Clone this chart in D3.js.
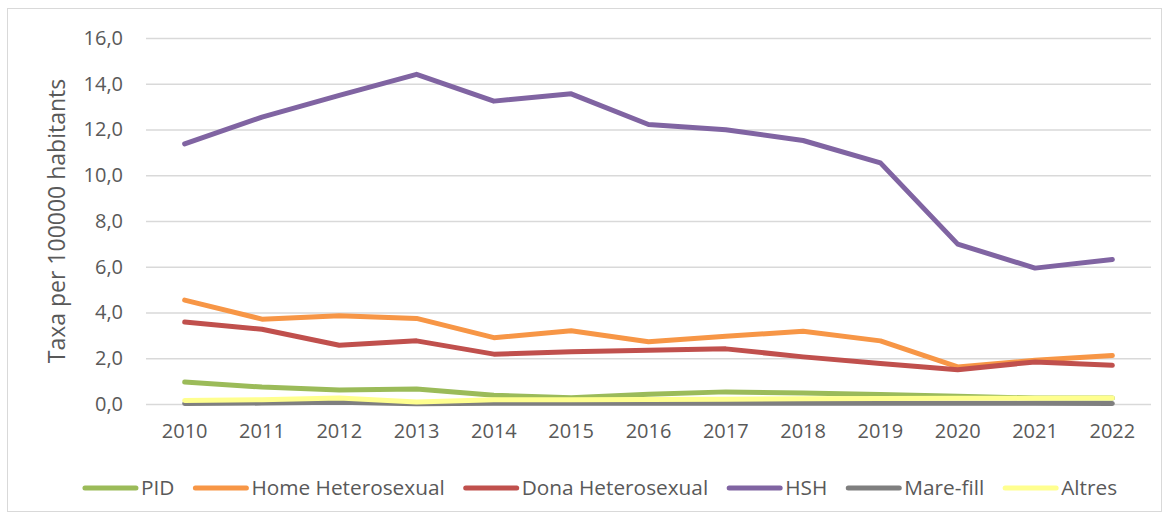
<!DOCTYPE html>
<html>
<head>
<meta charset="utf-8">
<script src="https://cdn.jsdelivr.net/npm/d3@7"></script>
<style>
  body { margin: 0; background: #fff; }
  svg { display: block; font-family: "Open Sans", sans-serif; }
</style>
</head>
<body>
<div class="chart"></div>
<script>
// values
const years = [2010, 2011, 2012, 2013, 2014, 2015, 2016, 2017, 2018, 2019, 2020, 2021, 2022];
const pid = [0.96, 0.74, 0.61, 0.66, 0.38, 0.27, 0.43, 0.53, 0.48, 0.42, 0.34, 0.26, 0.26];
const homeHetero = [4.54, 3.71, 3.86, 3.74, 2.90, 3.20, 2.72, 2.96, 3.18, 2.76, 1.62, 1.91, 2.12];
const donaHetero = [3.58, 3.27, 2.57, 2.76, 2.18, 2.28, 2.35, 2.41, 2.06, 1.77, 1.50, 1.84, 1.69];
const hsh = [11.37, 12.54, 13.49, 14.41, 13.24, 13.56, 12.22, 11.99, 11.52, 10.54, 6.99, 5.94, 6.32];
const mareFill = [0.02, 0.04, 0.08, 0.01, 0.03, 0.03, 0.03, 0.03, 0.03, 0.03, 0.03, 0.03, 0.02];
const altres = [0.15, 0.19, 0.26, 0.09, 0.19, 0.19, 0.20, 0.21, 0.23, 0.24, 0.25, 0.25, 0.26];
const seriesNames = ["PID", "Home Heterosexual", "Dona Heterosexual", "HSH", "Mare-fill", "Altres"];
const yTicks = [0, 2, 4, 6, 8, 10, 12, 14, 16];
const yTitle = "Taxa per 100000 habitants";

const colors = ["#9bbb59", "#f79646", "#c0504d", "#8064a2", "#7f7f7f", "#ffff8f"];
const series = [pid, homeHetero, donaHetero, hsh, mareFill, altres].map((vals, i) => ({
	name: seriesNames[i],
	color: colors[i],
	values: vals.map((v, j) => ({year: years[j], value: v}))
}));

const width = 1169;
const height = 519;
const plotLeft = 146, plotRight = 1151, plotTop = 38, plotBottom = 404;

const svg = d3.select('.chart')
	.append('svg')
	.attr('width', width)
	.attr('height', height);

// outer frame
svg.append('rect')
	.attr('x', 7.5).attr('y', 8.5)
	.attr('width', 1154).attr('height', 503)
	.attr('fill', 'none')
	.attr('stroke', '#d9d9d9')
	.attr('stroke-width', 1);

const x = d3.scaleBand().domain(years).range([plotLeft, plotRight]);
const y = d3.scaleLinear().domain([0, 16]).range([plotBottom, plotTop]);

const loc = d3.formatLocale({decimal: ",", thousands: ".", grouping: [3], currency: ["", "€"]});
const fmt = loc.format(".1f");

// y axis + gridlines
const yAxis = svg.append('g')
	.attr('transform', `translate(${plotLeft},0)`)
	.call(d3.axisLeft(y).tickValues(yTicks).tickFormat(fmt)
		.tickSize(-(plotRight - plotLeft)).tickPadding(23));
yAxis.select('.domain').remove();
yAxis.selectAll('line').attr('stroke', '#d9d9d9').attr('stroke-width', 1.3);
yAxis.selectAll('text').attr('fill', '#595959').attr('font-size', 20).attr('font-family', '"Open Sans", sans-serif');

// x axis labels
const xAxis = svg.append('g')
	.attr('transform', `translate(0,${plotBottom})`)
	.call(d3.axisBottom(x).tickSize(0).tickPadding(20));
xAxis.select('.domain').remove();
xAxis.selectAll('text').attr('fill', '#595959').attr('font-size', 20).attr('font-family', '"Open Sans", sans-serif');

// axis title
svg.append('text')
	.attr('transform', `translate(65,221) rotate(-90)`)
	.attr('text-anchor', 'middle')
	.attr('font-size', 23)
	.attr('fill', '#595959')
	.text(yTitle);

const line = d3.line()
	.x(d => x(d.year) + x.bandwidth() / 2)
	.y(d => y(d.value));

svg.append('g')
	.selectAll('path')
	.data(series)
	.enter()
	.append('path')
	.attr('d', d => line(d.values))
	.attr('fill', 'none')
	.attr('stroke', d => d.color)
	.attr('stroke-width', 5)
	.attr('stroke-linejoin', 'round')
	.attr('stroke-linecap', 'round');

// legend
const legend = svg.append('g');
let lx = 0;
series.forEach(s => {
	const g = legend.append('g').attr('transform', `translate(${lx},0)`);
	g.append('line')
		.attr('x1', 2).attr('x2', 53)
		.attr('y1', 0).attr('y2', 0)
		.attr('stroke', s.color)
		.attr('stroke-width', 5)
		.attr('stroke-linecap', 'round');
	const t = g.append('text')
		.attr('x', 58)
		.attr('dy', '0.35em')
		.attr('font-size', 20.8)
		.attr('fill', '#595959')
		.text(s.name);
	lx += 58 + t.node().getComputedTextLength() + 19;
});
lx -= 19;
legend.attr('transform', `translate(${600 - lx / 2},488)`);
</script>
</body>
</html>
